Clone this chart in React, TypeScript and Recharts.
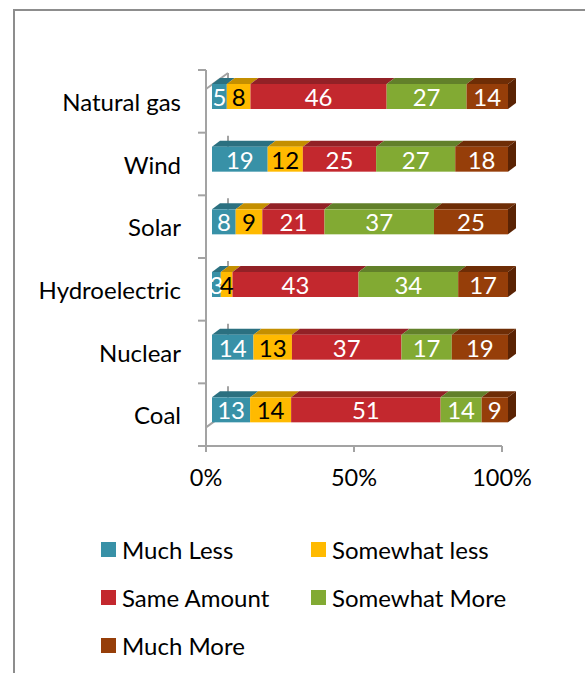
import React from 'react';
import { BarChart, Bar, XAxis, YAxis, Legend, LabelList } from 'recharts';

const categories = ['Natural gas', 'Wind', 'Solar', 'Hydroelectric', 'Nuclear', 'Coal'];
const muchLess = [5, 19, 8, 3, 14, 13];
const somewhatLess = [8, 12, 9, 4, 13, 14];
const sameAmount = [46, 25, 21, 43, 37, 51];
const somewhatMore = [27, 27, 37, 34, 17, 14];
const muchMore = [14, 18, 25, 17, 19, 9];
const seriesNames = ['Much Less', 'Somewhat less', 'Same Amount', 'Somewhat More', 'Much More'];
const seriesKeys = ['muchLess', 'somewhatLess', 'sameAmount', 'somewhatMore', 'muchMore'];
const xTicks = [0, 0.5, 1];

const frontColors = ['#3891A7', '#FFBA00', '#C3282E', '#82AA33', '#963E09'];
const topColors = ['#2B7080', '#C48F00', '#922126', '#62802A', '#6E2D06'];
const sideColor = '#5A2304';
const labelColors = ['#ffffff', '#000000', '#ffffff', '#ffffff', '#ffffff'];

const data = categories.map((name, i) => ({
  name,
  muchLess: muchLess[i],
  somewhatLess: somewhatLess[i],
  sameAmount: sameAmount[i],
  somewhatMore: somewhatMore[i],
  muchMore: muchMore[i],
}));

const FONT = 'Lato, "Open Sans", sans-serif';
const GRAY = '#a3a3a3';
const DX = 6;
const DY = -5;
const DEPTH_X = 8;
const DEPTH_Y = -6;
const WALL_X = 22;
const WALL_Y = -16;

const makeShape = (si: number) => (props: any) => {
  const { x, y, width, height, background, index } = props;
  if (width == null || height == null) return <g />;
  const X = x + DX;
  const Y = y + DY;
  const w = Math.max(0, width);
  const h = height;
  const isLast = si === seriesKeys.length - 1;
  const wall: any[] = [];
  if (si === 0 && background) {
    const bx = background.x;
    const by = background.y;
    const bh = background.height;
    wall.push(
      <line key="wv" x1={bx + WALL_X} y1={by + WALL_Y} x2={bx + WALL_X} y2={by + bh + WALL_Y} stroke={GRAY} strokeWidth={2} />
    );
    if (index === 0) {
      wall.push(<line key="wt" x1={bx} y1={by} x2={bx + WALL_X} y2={by + WALL_Y} stroke={GRAY} strokeWidth={2} />);
    }
    if (index === categories.length - 1) {
      wall.push(<line key="wb" x1={bx} y1={by + bh} x2={bx + WALL_X} y2={by + bh + WALL_Y} stroke={GRAY} strokeWidth={2} />);
    }
  }
  return (
    <g>
      {wall}
      <polygon
        points={`${X},${Y} ${X + w},${Y} ${X + w + DEPTH_X},${Y + DEPTH_Y} ${X + DEPTH_X},${Y + DEPTH_Y}`}
        fill={topColors[si]}
      />
      {isLast && (
        <polygon
          points={`${X + w},${Y} ${X + w + DEPTH_X},${Y + DEPTH_Y} ${X + w + DEPTH_X},${Y + h + DEPTH_Y} ${X + w},${Y + h}`}
          fill={sideColor}
        />
      )}
      <rect x={X} y={Y} width={w} height={h} fill={frontColors[si]} />
    </g>
  );
};

const makeLabel = (si: number) => (props: any) => {
  const { viewBox, value } = props;
  if (!viewBox) return null;
  const cx = viewBox.x + viewBox.width / 2 + DX;
  const cy = viewBox.y + viewBox.height / 2 + DY;
  return (
    <text
      x={cx}
      y={cy}
      textAnchor="middle"
      dominantBaseline="central"
      fill={labelColors[si]}
      fontFamily={FONT}
      fontSize={24}
    >
      {value}
    </text>
  );
};

const YTick = (props: any) => {
  const { x, y, payload, index } = props;
  const axisX = x + 25;
  const half = payload && payload.offset ? payload.offset : 31.33;
  return (
    <g>
      <line x1={axisX - 8} y1={y - half} x2={axisX} y2={y - half} stroke={GRAY} strokeWidth={2} />
      {index === categories.length - 1 && (
        <line x1={axisX - 8} y1={y + half} x2={axisX} y2={y + half} stroke={GRAY} strokeWidth={2} />
      )}
      <text x={x} y={y} textAnchor="end" dominantBaseline="central" fill="#000" fontFamily={FONT} fontSize={24}>
        {payload.value}
      </text>
    </g>
  );
};

const LegendContent = () => (
  <div
    style={{
      display: 'grid',
      gridTemplateColumns: '210px 210px',
      gridAutoRows: '48px',
      fontFamily: FONT,
      fontSize: 24,
      color: '#000',
    }}
  >
    {seriesNames.map((n, i) => (
      <div key={n} style={{ display: 'flex', alignItems: 'center' }}>
        <span style={{ display: 'inline-block', width: 15, height: 15, background: frontColors[i], marginRight: 6 }} />
        <span>{n}</span>
      </div>
    ))}
  </div>
);

export default function App() {
  return (
    <div style={{ position: 'absolute', left: 0, top: 0, width: 585, height: 673, overflow: 'hidden', background: '#fff' }}>
      <div
        style={{
          position: 'absolute',
          left: 13,
          top: 9,
          width: 640,
          height: 720,
          border: '2px solid #8d8d8d',
          boxSizing: 'border-box',
        }}
      />
      <div style={{ position: 'absolute', left: 0, top: 0 }}>
        <BarChart
          width={585}
          height={673}
          data={data}
          layout="vertical"
          stackOffset="expand"
          barSize={25}
          margin={{ top: 70, right: 83, bottom: 187, left: 0 }}
        >
          <XAxis
            type="number"
            domain={[0, 1]}
            ticks={xTicks}
            tickFormatter={(v: number) => `${Math.round(v * 100)}%`}
            axisLine={{ stroke: GRAY, strokeWidth: 2 }}
            tickLine={{ stroke: GRAY, strokeWidth: 2 }}
            tickSize={6}
            tickMargin={17}
            height={40}
            tick={{ fill: '#000', fontFamily: FONT, fontSize: 23.5 }}
            interval={0}
          />
          <YAxis
            type="category"
            dataKey="name"
            width={206}
            axisLine={{ stroke: GRAY, strokeWidth: 2 }}
            tickLine={false}
            tickSize={8}
            tickMargin={17}
            tick={<YTick />}
            interval={0}
          />
          <Legend
            layout="vertical"
            align="center"
            verticalAlign="middle"
            wrapperStyle={{ position: 'absolute', top: 525, left: 101, width: 420 }}
            content={<LegendContent />}
          />
          {seriesKeys.map((k, si) => (
            <Bar
              key={k}
              dataKey={k}
              name={seriesNames[si]}
              stackId="a"
              fill={frontColors[si]}
              isAnimationActive={false}
              shape={makeShape(si)}
            >
              <LabelList dataKey={k} content={makeLabel(si)} />
            </Bar>
          ))}
        </BarChart>
      </div>
    </div>
  );
}
